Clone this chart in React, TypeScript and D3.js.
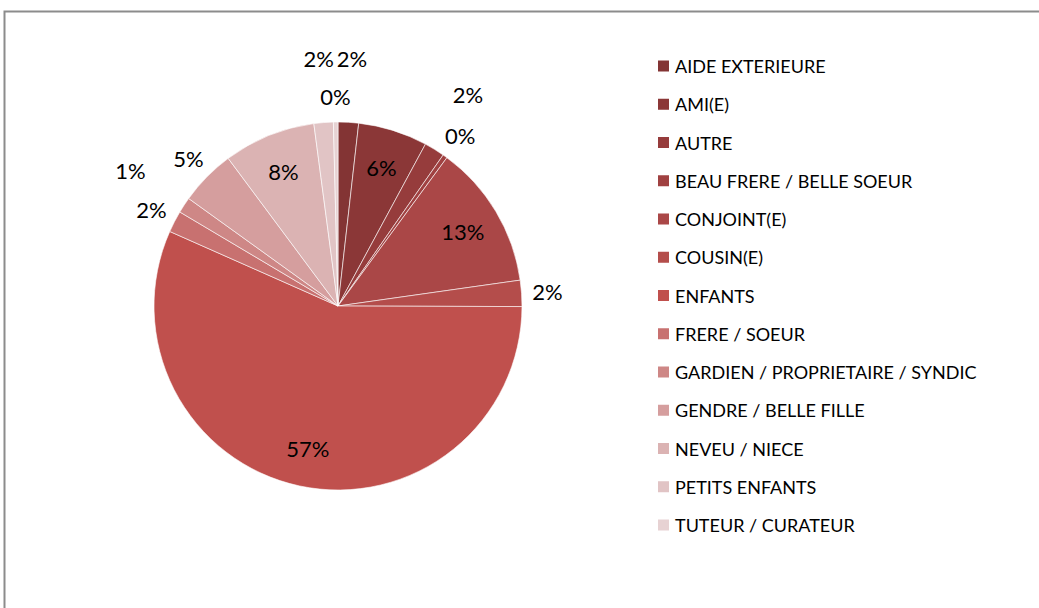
import React from 'react';
import * as d3 from 'd3';

const categories = [
  'AIDE EXTERIEURE',
  'AMI(E)',
  'AUTRE',
  'BEAU FRERE / BELLE SOEUR',
  'CONJOINT(E)',
  'COUSIN(E)',
  'ENFANTS',
  'FRERE / SOEUR',
  'GARDIEN / PROPRIETAIRE / SYNDIC',
  'GENDRE / BELLE FILLE',
  'NEVEU / NIECE',
  'PETITS ENFANTS',
  'TUTEUR / CURATEUR'
];

// share of each category, in percent
const shares = [1.8, 6.1, 1.8, 0.4, 12.7, 2.3, 56.7, 1.9, 1.4, 4.9, 8.1, 1.7, 0.4];

const colors = [
  '#833434', '#8b3737', '#963c3c', '#a04141', '#aa4747', '#b44d4b',
  '#c0504d', '#c87170', '#ce8786', '#d59e9e', '#dbb3b3', '#e1c4c5', '#e7d2d3'
];

// where the % label sits: inside the slice, just outside, or further out
const labelRing = ['far', 'in', 'far', 'out', 'in', 'out', 'in', 'out', 'far', 'out', 'in', 'far', 'out'];

const W = 1039, H = 608;
const cx = 338, cy = 306, R = 184;
const font = 'Lato, "Open Sans", sans-serif';

export default function App() {
  const pie = d3.pie<number>().sort(null).value(d => d);
  const arcs = pie(shares);
  const arc = d3.arc<d3.PieArcDatum<number>>().innerRadius(0).outerRadius(R);
  const total = d3.sum(shares);
  const fmt = d3.format('.0%');

  const ringR = {in: R * 0.79, out: R + 26, far: R + 64};

  const legendY = d3.scalePoint<string>().domain(categories).range([66, 525]);

  return (
    <svg width={W} height={H} style={{position: 'absolute', left: 0, top: 0, display: 'block'}}>
      <rect x={0} y={0} width={W} height={H} fill="#fff" />
      <path d={`M4.5,${H + 5} V11.5 H${W + 5}`} fill="none" stroke="#8c8c8c" strokeWidth={2} />

      <g transform={`translate(${cx},${cy})`}>
        {arcs.map((a, i) => (
          <path key={i} d={arc(a) || ''} fill={colors[i]} stroke="#fff" strokeWidth={0.6} />
        ))}
        {arcs.map((a, i) => {
          const mid = (a.startAngle + a.endAngle) / 2;
          const r = ringR[labelRing[i]];
          return (
            <text
              key={'l' + i}
              x={Math.sin(mid) * r}
              y={-Math.cos(mid) * r}
              textAnchor="middle"
              dominantBaseline="central"
              fontFamily={font}
              fontSize={22}
              fill="#000"
            >
              {fmt(shares[i] / total)}
            </text>
          );
        })}
      </g>

      <g>
        {categories.map((c, i) => (
          <g key={c} transform={`translate(658,${legendY(c)})`}>
            <rect x={0} y={-5.5} width={11} height={11} fill={colors[i]} />
            <text x={17} y={0} dominantBaseline="central" fontFamily={font} fontSize={18} fill="#000">
              {c}
            </text>
          </g>
        ))}
      </g>
    </svg>
  );
}
